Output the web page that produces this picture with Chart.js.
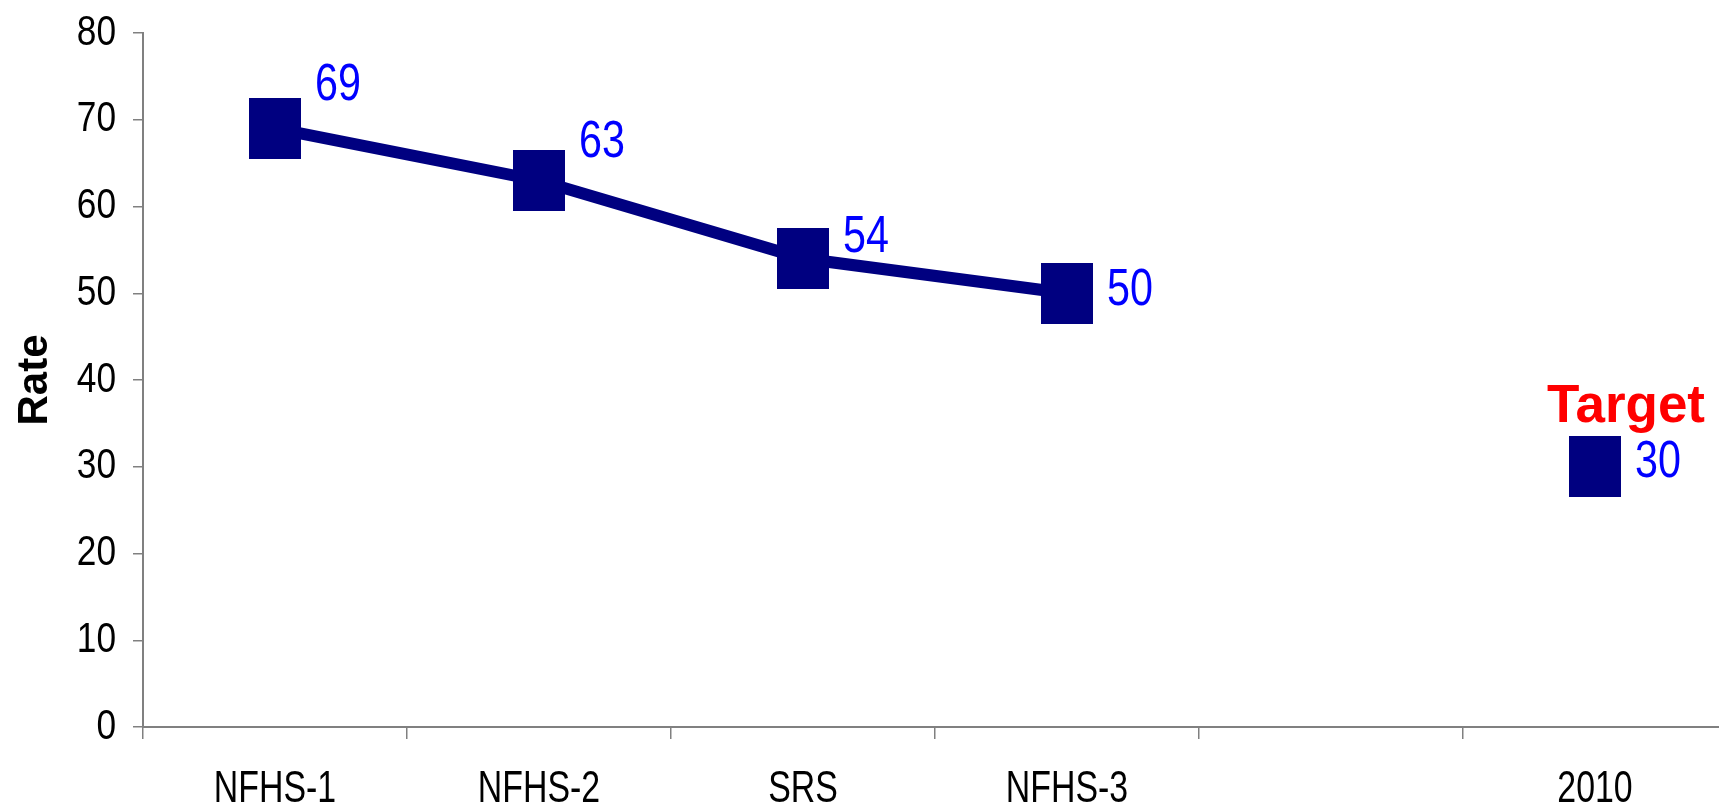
<!DOCTYPE html>
<html>
<head>
<meta charset="utf-8">
<script src="https://cdn.jsdelivr.net/npm/chart.js@4.4.1/dist/chart.umd.min.js"></script>
<style>
  html, body { margin: 0; padding: 0; background: #ffffff; overflow: hidden; }
  #rateChart { position: absolute; left: 0; top: 0; }
</style>
</head>
<body>
<canvas id="rateChart" width="1740" height="808"></canvas>
<script>
// Survey rounds and the rate recorded in each (the blank slot keeps the gap before the target year)
const surveys = ['NFHS-1', 'NFHS-2', 'SRS', 'NFHS-3', '', '2010'];
const rates = [69, 63, 54, 50, null, 30];
const targetText = 'Target';
const axisTitle = 'Rate';
const yMin = 0;
const yMax = 80;
const yStep = 10;

// Styling
const plainFont = '"Liberation Sans", Arial, sans-serif';
const navy = '#000080';
const axisGrey = '#808080';
// horizontal squeeze applied to the condensed texts
const xTickSqueeze = 0.77;
const yTickSqueeze = 0.84;
const valueSqueeze = 0.81;
// how far each value label sits above its marker (px)
const labelLift = [42, 38, 21, 2, 0, 4];

// Tall square marker used for every point
const marker = document.createElement('canvas');
marker.width = 52;
marker.height = 61;
const mctx = marker.getContext('2d');
mctx.fillStyle = navy;
mctx.fillRect(0, 0, marker.width, marker.height);

// Draw a scale's tick labels horizontally condensed
function condenseTickLabels(scale, k) {
  if (scale._condensed) return;
  const baseDraw = scale.drawLabels;
  scale.drawLabels = function (area) {
    const ctx = this.ctx;
    const fill = CanvasRenderingContext2D.prototype.fillText;
    ctx.fillText = function (t, x, y) {
      fill.call(ctx, t, x, y, ctx.measureText(t).width * k);
    };
    try { baseDraw.call(this, area); } finally { delete ctx.fillText; }
  };
  scale._condensed = true;
}

// Writes the value beside each marker and the caption above the target point
const valueLabels = {
  id: 'valueLabels',
  afterDatasetsDraw(chart) {
    const ctx = chart.ctx;
    const meta = chart.getDatasetMeta(0);
    ctx.save();
    ctx.font = '51px ' + plainFont;
    ctx.fillStyle = '#0000FF';
    ctx.textAlign = 'left';
    ctx.textBaseline = 'middle';
    meta.data.forEach((pt, i) => {
      const v = rates[i];
      if (v === null || v === undefined) return;
      const txt = String(v);
      ctx.fillText(txt, pt.x + 40, pt.y - labelLift[i], ctx.measureText(txt).width * valueSqueeze);
    });
    const last = meta.data[rates.length - 1];
    ctx.font = 'bold 53px ' + plainFont;
    ctx.fillStyle = '#FF0000';
    ctx.textAlign = 'center';
    ctx.textBaseline = 'alphabetic';
    ctx.fillText(targetText, last.x + 31, last.y - 45);
    ctx.restore();
  }
};

new Chart(document.getElementById('rateChart'), {
  type: 'line',
  data: {
    labels: surveys,
    datasets: [{
      data: rates,
      borderColor: navy,
      backgroundColor: navy,
      borderWidth: 12,
      pointStyle: marker,
      pointRadius: 26,
      pointHoverRadius: 26,
      pointBorderWidth: 0,
      spanGaps: false,
      fill: false,
      tension: 0
    }]
  },
  options: {
    responsive: false,
    animation: false,
    events: [],
    layout: { autoPadding: false, padding: { top: 33, right: 13, left: 0, bottom: 0 } },
    plugins: { legend: { display: false }, tooltip: { enabled: false } },
    scales: {
      x: {
        type: 'category',
        offset: true,
        grid: { offset: true, drawOnChartArea: false, drawTicks: true, tickLength: 12, color: axisGrey, lineWidth: 1.5 },
        border: { display: true, color: axisGrey, width: 2 },
        ticks: { color: '#000000', font: { family: plainFont, size: 44 }, padding: 24, maxRotation: 0, autoSkip: false },
        afterFit: s => {
          s.height = 81;
          s.paddingLeft = 0;
          s.paddingRight = 0;
          condenseTickLabels(s, xTickSqueeze);
        }
      },
      y: {
        min: yMin,
        max: yMax,
        ticks: { stepSize: yStep, color: '#000000', font: { family: plainFont, size: 42 }, padding: 17 },
        grid: { drawOnChartArea: false, drawTicks: true, tickLength: 10, color: axisGrey, lineWidth: 1.5 },
        border: { display: true, color: axisGrey, width: 2 },
        title: {
          display: true,
          text: axisTitle,
          color: '#000000',
          font: { family: plainFont, size: 42, weight: 'bold' },
          padding: { top: 10, bottom: 0 }
        },
        afterFit: s => {
          s.width = 143;
          s.paddingTop = 0;
          s.paddingBottom = 0;
          condenseTickLabels(s, yTickSqueeze);
        }
      }
    }
  },
  plugins: [valueLabels]
});
</script>
</body>
</html>
